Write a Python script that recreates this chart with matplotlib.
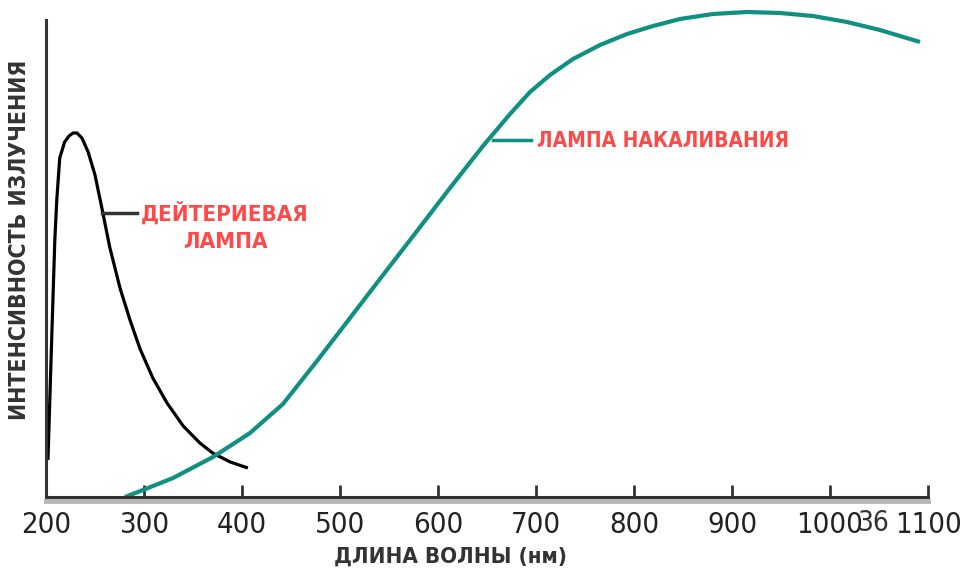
import matplotlib
matplotlib.use("Agg")
from matplotlib import pyplot as plt

# deuterium lamp (nm, relative intensity)
deut_nm = [202, 206, 209, 211, 214, 219, 223.5, 227.6, 231.6, 236.7, 243, 250, 257, 265, 275.5,
           285.7, 296, 309, 323.5, 340, 357, 370, 388, 406]
deut_i = [37, 164, 257, 297, 339, 355, 361, 364, 364, 359, 345, 322, 289, 250, 209,
          177, 148, 119, 94, 71, 54, 44, 35, 29]

# incandescent lamp
inc_nm = [280.6, 299, 329.6, 370.4, 408.2, 441.8, 476.5, 510.2, 543.9, 578.6, 612.2, 645.9, 673.5,
          693.9, 714.3, 737.8, 765.3, 792.9, 819.4, 846.9, 880.6, 915.3, 949, 982.7, 1017.3, 1051,
          1091.8]
inc_i = [0, 7, 19, 40, 64, 93, 136, 179, 222, 266, 309, 351, 383,
         405, 422, 438, 452, 463, 471, 478, 483, 485, 484, 481, 475, 467,
         455]

ticks = [200, 300, 400, 500, 600, 700, 800, 900, 1000, 1100]

teal = "#0f9080"
red = "#ff4848"
dark = "#333333"

fig = plt.figure(figsize=(9.63, 5.68), dpi=100)
ax = fig.add_axes([46/963, 71/568, 882/963, 477/568])
ax.set_xlim(200, 1100)
ax.set_ylim(0, 477)

ax.plot(deut_nm, deut_i, color="black", lw=2.3, solid_capstyle="butt")
ax.plot(inc_nm, inc_i, color=teal, lw=3, solid_capstyle="butt", clip_on=False)

# pointer lines and labels
ax.plot([257, 293], [284, 284], color=dark, lw=2.5)
ax.text(225/963, 1-213/568, "ДЕЙТЕРИЕВАЯ", transform=fig.transFigure, color=red,
        fontsize=16, fontweight="bold", fontstretch="condensed", ha="center", va="center")
ax.text(225/963, 1-242/568, "ЛАМПА", transform=fig.transFigure, color=red,
        fontsize=16, fontweight="bold", fontstretch="condensed", ha="center", va="center")
ax.plot([656, 695], [357, 357], color=teal, lw=2.5)
ax.text(537/963, 1-141/568, "ЛАМПА НАКАЛИВАНИЯ", transform=fig.transFigure, color=red,
        fontsize=15, fontweight="bold", fontstretch="condensed", ha="left", va="center")

for s in ["top", "right"]:
    ax.spines[s].set_visible(False)
ax.spines["left"].set_linewidth(2.2)
ax.spines["left"].set_color(dark)
ax.spines["bottom"].set_linewidth(2.2)
ax.spines["bottom"].set_color(dark)
# grey band under the axis line
ax.plot([200, 1100], [-4, -4], color="#b8b8b8", lw=3.5, clip_on=False)

ax.set_yticks([])
ax.set_xticks(ticks)
ax.set_xticklabels([str(t) for t in ticks], fontsize=21, fontstretch="condensed", color="#222222")
ax.tick_params(axis="x", direction="in", length=9, width=2, color=dark, pad=10)

fig.text(450/963, 1-557/568, "ДЛИНА ВОЛНЫ (нм)", fontsize=16, fontstretch="condensed",
         fontweight="bold", ha="center", va="center", color=dark)
fig.text(20/963, 1-240/568, "ИНТЕНСИВНОСТЬ ИЗЛУЧЕНИЯ", fontsize=16.5, fontstretch="condensed",
         fontweight="bold", ha="center", va="center", rotation=90, color=dark)
fig.text(873/963, 1-523/568, "36", fontsize=20, fontstretch="condensed", ha="center",
         va="center", color=dark)

fig.savefig("out.png", dpi=100)
